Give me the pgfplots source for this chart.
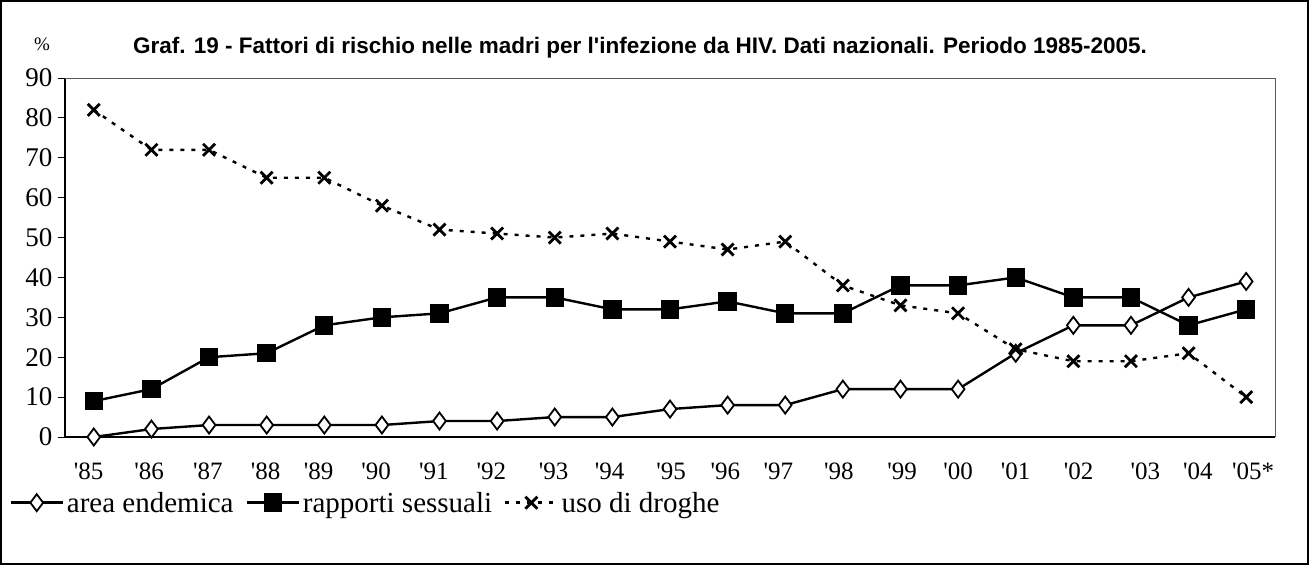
\documentclass[border=0pt]{standalone}
\usepackage{fontspec}
\setmainfont{Liberation Serif}[Ligatures=TeXOff]
\newfontfamily\arialb{Liberation Sans}[Ligatures=TeXOff]
\usepackage{pgfplots}
\pgfplotsset{compat=1.18}
\begin{document}
\begin{tikzpicture}[x=1pt,y=1pt]
\draw[line width=2pt] (1,1) rectangle (1308,564);
\node[font=\arialb\bfseries\fontsize{22.5}{24}\selectfont] at (640,517) {Graf. 19 - Fattori di rischio nelle madri per l'infezione da HIV. Dati nazionali. Periodo 1985-2005.};
\node[font=\fontsize{19}{20}\selectfont] at (42,521) {\%};
\begin{axis}[
  at={(65pt,128pt)}, anchor=south west,
  scale only axis, width=1210pt, height=359pt,
  xmin=-0.5, xmax=20.5, ymin=0, ymax=90,
  ytick={0,10,...,90},
  /pgf/number format/assume math mode=true,
  xtick={-0.09,0.96,1.98,2.98,3.9,4.9,5.9,6.9,7.98,8.95,10.02,10.96,11.88,12.93,14.03,15,16,17.09,18.25,19.16,20.12},
  xticklabels={'85,'86,'87,'88,'89,'90,'91,'92,'93,'94,'95,'96,'97,'98,'99,'00,'01,'02,'03,'04,'05*},
  major x tick style={draw=none},
  tick align=outside, major tick length=7pt,
  tick style={black, line width=1pt},
  axis x line*=bottom, axis y line*=left,
  axis line style={-, line width=1.3pt},
  yticklabel style={font=\fontsize{27}{28}\selectfont, xshift=-2pt},
  xticklabel style={font=\fontsize{25}{26}\selectfont, yshift=-15pt},
  legend columns=-1,
  legend style={draw=none, at={(-0.046,-0.183)}, anchor=west, inner sep=0pt,
    font=\fontsize{29}{30}\selectfont,
    /tikz/every even column/.append style={column sep=10pt},
    /tikz/every odd column/.append style={column sep=1pt}},
  legend image code/.code={\draw[mark repeat=2,mark phase=2,#1] plot coordinates {(0pt,0pt) (26pt,0pt) (52pt,0pt)};},
  clip=false,
]
\draw[gray!70!black, line width=1pt] (rel axis cs:0,1) -- (rel axis cs:1,1) -- (rel axis cs:1,0);
\addplot[black, line width=2.4pt, mark=diamond*, mark size=8.5pt, mark options={solid, fill=white, draw=black, line width=1.8pt}] coordinates {
(0,0) (1,2) (2,3) (3,3) (4,3) (5,3) (6,4) (7,4) (8,5) (9,5) (10,7) (11,8) (12,8) (13,12) (14,12) (15,12) (16,21) (17,28) (18,28) (19,35) (20,39)};
\addlegendentry{area endemica}
\addplot[black, line width=2.4pt, mark=square*, mark size=8pt, mark options={solid, fill=black}] coordinates {
(0,9) (1,12) (2,20) (3,21) (4,28) (5,30) (6,31) (7,35) (8,35) (9,32) (10,32) (11,34) (12,31) (13,31) (14,38) (15,38) (16,40) (17,35) (18,35) (19,28) (20,32)};
\addlegendentry{rapporti sessuali}
\addplot[black, line width=2.4pt, dash pattern=on 4pt off 7pt, mark=x, mark size=8.5pt, mark options={solid, line width=2.8pt}] coordinates {
(0,82) (1,72) (2,72) (3,65) (4,65) (5,58) (6,52) (7,51) (8,50) (9,51) (10,49) (11,47) (12,49) (13,38) (14,33) (15,31) (16,22) (17,19) (18,19) (19,21) (20,10)};
\addlegendentry{uso di droghe}
\end{axis}
\end{tikzpicture}
\end{document}
